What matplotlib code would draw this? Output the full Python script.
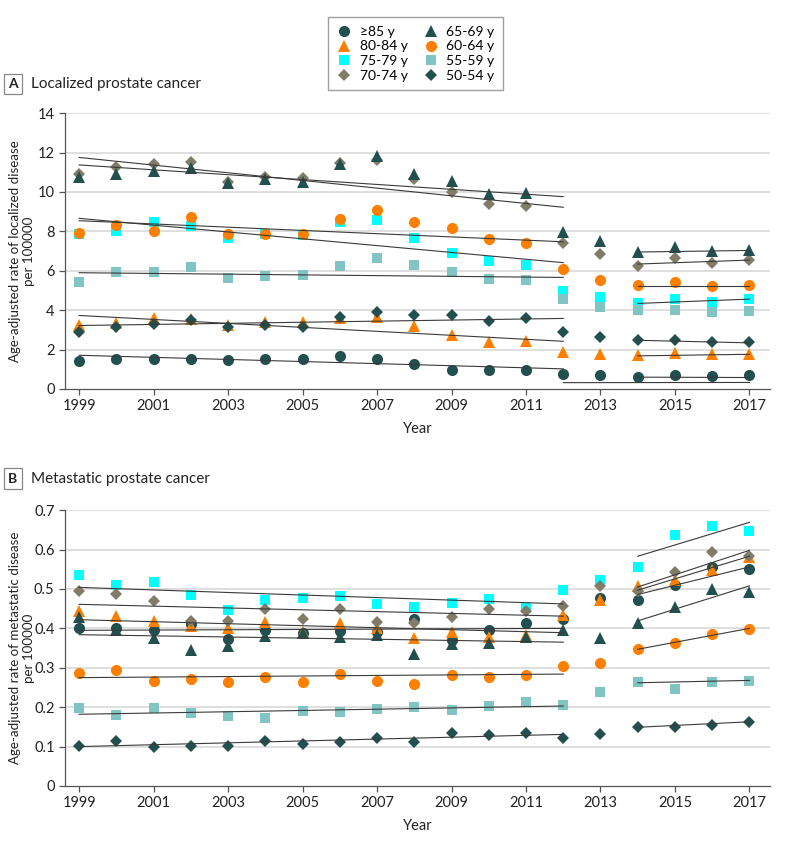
import matplotlib.pyplot as plt
from matplotlib.lines import Line2D

plt.rcParams['font.family'] = ['Lato', 'DejaVu Sans']

years = list(range(1999, 2018))
groups = ['≥85 y', '80-84 y', '75-79 y', '70-74 y', '65-69 y', '60-64 y', '55-59 y', '50-54 y']

# panel A - localized disease, per 100000
loc_85 = [1.44, 1.51, 1.53, 1.54, 1.47, 1.53, 1.54, 1.68, 1.51, 1.29, 0.97, 0.97, 0.98, 0.78, 0.69, 0.61, 0.73, 0.64, 0.69]
loc_80 = [3.27, 3.37, 3.61, 3.54, 3.24, 3.41, 3.41, 3.58, 3.66, 3.20, 2.73, 2.37, 2.44, 1.86, 1.75, 1.71, 1.80, 1.75, 1.76]
loc_75 = [7.86, 8.02, 8.46, 8.29, 7.64, 7.86, 7.81, 8.46, 8.58, 7.64, 6.88, 6.49, 6.29, 4.98, 4.68, 4.34, 4.56, 4.42, 4.56]
loc_70 = [10.90, 11.27, 11.42, 11.53, 10.49, 10.78, 10.69, 11.46, 11.63, 10.64, 10.02, 9.39, 9.31, 7.39, 6.85, 6.25, 6.63, 6.41, 6.54]
loc_65 = [10.78, 10.92, 11.08, 11.20, 10.44, 10.66, 10.49, 11.41, 11.80, 10.92, 10.53, 9.90, 9.97, 7.98, 7.51, 6.93, 7.19, 7.00, 7.05]
loc_60 = [7.93, 8.32, 8.03, 8.73, 7.85, 7.86, 7.86, 8.63, 9.10, 8.47, 8.19, 7.63, 7.41, 6.10, 5.53, 5.29, 5.41, 5.25, 5.27]
loc_55 = [5.42, 5.92, 5.92, 6.19, 5.61, 5.75, 5.76, 6.25, 6.66, 6.27, 5.93, 5.58, 5.54, 4.56, 4.17, 4.00, 4.00, 3.90, 3.97]
loc_50 = [2.90, 3.14, 3.31, 3.49, 3.15, 3.27, 3.15, 3.63, 3.92, 3.75, 3.75, 3.44, 3.58, 2.90, 2.63, 2.46, 2.46, 2.37, 2.36]

# trend lines (start, end) for 1999-2012 and 2014-2017
loc_trend_early = [(1.71, 1.02), (3.73, 2.42), (8.66, 6.41), (11.75, 9.22),
                   (11.37, 9.76), (8.54, 7.47), (5.90, 5.66), (3.22, 3.58)]
loc_trend_late = [(0.60, 0.58), (1.68, 1.76), (4.34, 4.56), (6.34, 6.54),
                  (6.95, 7.03), (5.25, 5.25), None, (2.47, 2.34)]
loc_extra = (2012, 2017, 0.32, 0.33)

# panel B - metastatic disease, per 100000
met_85 = [0.402, 0.402, 0.396, 0.411, 0.374, 0.397, 0.387, 0.394, 0.390, 0.424, 0.370, 0.396, 0.414, 0.423, 0.478, 0.473, 0.510, 0.556, 0.551]
met_80 = [0.444, 0.432, 0.419, 0.407, 0.400, 0.415, 0.392, 0.414, 0.400, 0.376, 0.391, 0.379, 0.383, 0.434, 0.472, 0.507, 0.522, 0.548, 0.580]
met_75 = [0.536, 0.511, 0.518, 0.484, 0.446, 0.473, 0.478, 0.483, 0.463, 0.455, 0.465, 0.474, 0.451, 0.497, 0.522, 0.557, 0.636, 0.660, 0.648]
met_70 = [0.494, 0.487, 0.470, 0.418, 0.418, 0.448, 0.423, 0.448, 0.417, 0.414, 0.430, 0.450, 0.444, 0.456, 0.508, 0.495, 0.544, 0.593, 0.583]
met_65 = [0.429, 0.396, 0.376, 0.345, 0.356, 0.380, 0.387, 0.379, 0.383, 0.336, 0.360, 0.362, 0.379, 0.397, 0.376, 0.414, 0.455, 0.499, 0.493]
met_60 = [0.287, 0.294, 0.266, 0.271, 0.263, 0.277, 0.264, 0.284, 0.266, 0.260, 0.281, 0.276, 0.281, 0.304, 0.311, 0.347, 0.362, 0.385, 0.399]
met_55 = [0.199, 0.181, 0.197, 0.184, 0.178, 0.172, 0.191, 0.187, 0.195, 0.201, 0.193, 0.204, 0.212, 0.205, 0.239, 0.264, 0.246, 0.265, 0.267]
met_50 = [0.101, 0.113, 0.099, 0.101, 0.102, 0.115, 0.107, 0.111, 0.121, 0.111, 0.134, 0.129, 0.135, 0.123, 0.132, 0.149, 0.150, 0.156, 0.163]

met_trend_early = [(0.395, 0.400), (0.422, 0.389), (0.504, 0.462), (0.461, 0.431),
                   (0.384, 0.365), (0.275, 0.284), (0.182, 0.203), (0.100, 0.131)]
met_trend_late = [(0.486, 0.556), (0.497, 0.583), (0.583, 0.669), (0.505, 0.598),
                  (0.419, 0.508), (0.347, 0.400), (0.262, 0.268), (0.149, 0.163)]

colors = ['#22504f', '#ff7f00', '#00ffff', '#807c68', '#22504f', '#ff7f00', '#80c4c4', '#22504f']
markers = ['o', '^', 's', 'D', '^', 'o', 's', 'D']
sizes = [8, 8.5, 7.5, 6.5, 8.5, 8, 7.5, 6.5]

fig = plt.figure(figsize=(7.85, 8.41), dpi=100)
axA = fig.add_axes([0.0828, 0.5375, 0.898, 0.328])
axB = fig.add_axes([0.0828, 0.0654, 0.898, 0.328])


def draw_panel(ax, series, trend_early, trend_late, ymax, ystep, ylabel):
    for i, vals in enumerate(series):
        ax.plot(years, vals, linestyle='none', marker=markers[i], color=colors[i],
                markersize=sizes[i], markeredgewidth=0, zorder=3 + i * 0.01)
    for t in trend_early:
        ax.plot([1999, 2012], t, color='#3a3a3a', lw=0.8, zorder=4)
    for t in trend_late:
        if t is not None:
            ax.plot([2014, 2017], t, color='#3a3a3a', lw=0.8, zorder=4)
    ax.set_xlim(1998.62, 2017.55)
    ax.set_ylim(0, ymax)
    ax.set_xticks(range(1999, 2018, 2))
    n = int(round(ymax / ystep))
    ticks = [k * ystep for k in range(n + 1)]
    ax.set_yticks(ticks)
    for tk in ticks[1:]:
        ax.axhline(tk, color='#dcdcdc', lw=1.3, zorder=1)
    for s in ['top', 'right']:
        ax.spines[s].set_visible(False)
    for s in ['left', 'bottom']:
        ax.spines[s].set_color('#555555')
        ax.spines[s].set_linewidth(0.9)
    ax.tick_params(colors='#555555', labelcolor='#222222', labelsize=10.5, length=4, width=0.9)
    ax.set_xlabel('Year', fontsize=10.5, color='#222222', labelpad=6)
    ax.set_ylabel(ylabel, fontsize=9.6, color='#222222', linespacing=1.15)
    ax.yaxis.set_label_coords(-0.043, 0.5)


draw_panel(axA, [loc_85, loc_80, loc_75, loc_70, loc_65, loc_60, loc_55, loc_50],
           loc_trend_early, loc_trend_late, 14, 2,
           'Age-adjusted rate of localized disease\nper 100000')
axA.plot([loc_extra[0], loc_extra[1]], [loc_extra[2], loc_extra[3]], color='#3a3a3a', lw=0.8, zorder=4)
axA.set_yticklabels([str(v) for v in range(0, 15, 2)])

draw_panel(axB, [met_85, met_80, met_75, met_70, met_65, met_60, met_55, met_50],
           met_trend_early, met_trend_late, 0.7, 0.1,
           'Age-adjusted rate of metastatic disease\nper 100000')
axB.set_yticklabels(['0', '0.1', '0.2', '0.3', '0.4', '0.5', '0.6', '0.7'])

# panel titles
for lbl, title, ypos in [('A', 'Localized prostate cancer', 0.9), ('B', 'Metastatic prostate cancer', 0.431)]:
    fig.text(0.0165, ypos, lbl, fontsize=10, fontweight='bold', color='#222222', va='center', ha='center',
             bbox=dict(boxstyle='square,pad=0.3', fc='white', ec='#888888', lw=0.9))
    fig.text(0.04, ypos, title, fontsize=11, color='#222222', va='center')

handles = [Line2D([], [], linestyle='none', marker=markers[i], color=colors[i],
                  markersize=sizes[i], markeredgewidth=0) for i in range(8)]
leg = fig.legend(handles, groups, ncol=2, loc='center', bbox_to_anchor=(0.529, 0.936),
                 frameon=True, fancybox=False, fontsize=10, handletextpad=0.5,
                 columnspacing=1.1, labelspacing=0.2, borderpad=0.6, handlelength=1.2)
leg.get_frame().set_edgecolor('#888888')
leg.get_frame().set_linewidth(1.0)

fig.savefig('out.png', dpi=100)
